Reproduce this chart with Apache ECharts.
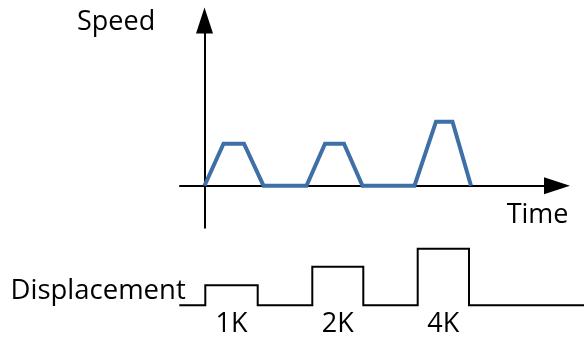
<!DOCTYPE html>
<html>
<head>
<meta charset="utf-8">
<script src="https://cdn.jsdelivr.net/npm/echarts@6/dist/echarts.min.js"></script>
<style>
html, body { margin: 0; padding: 0; background: #fff; }
#chart { width: 584px; height: 338px; }
</style>
</head>
<body>
<div id="chart"></div>
<script>
// speed profile: time in axis units, speed in arbitrary units
const speedTime = [0, 1.9, 3.95, 5.9, 10.2, 12.05, 13.95, 15.8, 21.0, 23.15, 24.8, 26.65]
const speedValue = [0, 2, 2, 0, 0, 2, 2, 0, 0, 3.05, 3.05, 0]
// displacement pulses
const stepLabels = ['1K', '2K', '4K']
const stepStart = [0.08, 10.78, 21.32]
const stepEnd = [5.32, 15.88, 26.45]
const stepHeight = [1.05, 2.02, 2.96]
const dispFrom = -2.52
const dispTo = 37.95

const font = 'Open Sans'
const ink = '#000'

const initChart = () => {
	const chartDom = document.getElementById('chart')
	const myChart = echarts.init(chartDom)

	const speedData = speedTime.map((t, i) => [t, speedValue[i]])
	const dispData = [[dispFrom, 0]]
	stepStart.forEach((s, i) => {
		dispData.push([s, stepHeight[i]])
		dispData.push([stepEnd[i], 0])
	})
	dispData.push([dispTo, 0])
	const labelData = stepLabels.map((n, i) => ({ name: n, value: [(stepStart[i] + stepEnd[i]) / 2, 0] }))

	const textStyle = { fontFamily: font, fontSize: 27, fontWeight: 'normal', color: ink, lineHeight: 30 }
	const arrowLine = {
		onZero: true,
		symbol: ['none', 'triangle'],
		symbolSize: [17, 26],
		lineStyle: { color: ink, width: 2 }
	}
	const bareAxis = {
		type: 'value',
		axisLine: arrowLine,
		axisTick: { show: false },
		axisLabel: { show: false },
		splitLine: { show: false }
	}

	const options = {
		animation: false,
		// axis captions
		title: [
			{ text: 'Speed', left: 77, top: 7.7, padding: 0, textStyle },
			{ text: 'Time', right: 15.5, top: 200.3, padding: 0, textStyle },
			{ text: 'Displacement', left: 10.5, top: 275.7, padding: 0, textStyle: { ...textStyle, fontSize: 27.5 } }
		],
		grid: [
			{ left: 180, right: 27, top: 20.5, bottom: 110.3 },
			{ left: 179, right: 0, top: 238.45, bottom: 23.15 }
		],
		xAxis: [
			{ ...bareAxis, min: -2.45, max: 35.25 },
			{ type: 'value', gridIndex: 1, min: -2.55, max: 37.95, show: false }
		],
		yAxis: [
			{ ...bareAxis, min: -2, max: 7.87 },
			{ type: 'value', gridIndex: 1, min: -0.5, max: 3.5, show: false }
		],
		series: [
			{
				name: 'Speed',
				type: 'line',
				data: speedData,
				symbol: 'none',
				lineStyle: { color: '#3e6fa6', width: 4, join: 'miter' },
				emphasis: { disabled: true },
				z: 3
			},
			{
				name: 'Displacement',
				type: 'line',
				xAxisIndex: 1,
				yAxisIndex: 1,
				step: 'end',
				data: dispData,
				symbol: 'none',
				lineStyle: { color: ink, width: 2, join: 'miter' },
				emphasis: { disabled: true }
			},
			{
				name: 'labels',
				type: 'scatter',
				xAxisIndex: 1,
				yAxisIndex: 1,
				symbolSize: 0,
				itemStyle: { opacity: 1 },
				data: labelData,
				label: {
					show: true,
					position: 'bottom',
					distance: 5.5,
					formatter: '{b}',
					fontFamily: font,
					fontSize: 27,
					color: ink,
					opacity: 1,
					lineHeight: 28
				},
				emphasis: { disabled: true }
			}
		]
	}

	myChart.setOption(options)
	return myChart
}
initChart()
</script>
</body>
</html>
